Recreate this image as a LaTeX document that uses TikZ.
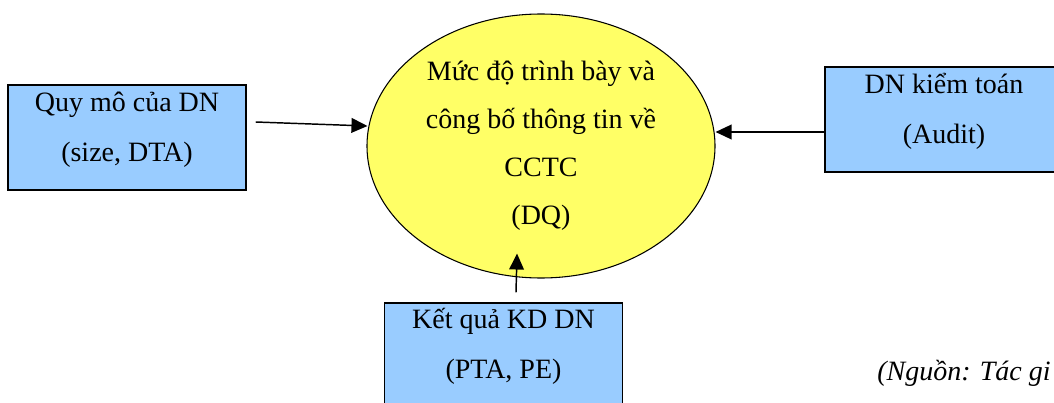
\documentclass[tikz,border=0pt]{standalone}
\usepackage{fontspec}
\setmainfont{Liberation Serif}
\usetikzlibrary{shapes.geometric,arrows.meta}

\tikzset{
  factor/.style={draw=black, line width=1.1pt, fill=factorblue,
    minimum width=178.5pt, minimum height=78.75pt, inner sep=0pt},
  factortxt/.style={align=center, inner sep=0pt,
    font=\fontsize{21}{37.5}\selectfont},
  arr/.style={line width=1.1pt, -{Triangle[length=12pt,width=11pt]}}
}
\definecolor{factorblue}{RGB}{153,204,255}
\definecolor{dqyellow}{RGB}{255,255,102}

\begin{document}
\begin{tikzpicture}[x=0.75pt,y=-0.75pt]
\clip (0,0) rectangle (1054,403);
% central ellipse
\node[ellipse, draw=black, line width=0.8pt, fill=dqyellow,
  minimum width=261pt, minimum height=198pt, inner sep=0pt,
  align=center, font=\fontsize{21}{36}\selectfont] (dq) at (541,146)
  {Mức độ trình bày và\\công bố thông tin về\\CCTC\\(DQ)};
% the three factors
\node[factor] (size) at (127,137.5) {};
\node[factortxt] (sizetxt) at ([shift={(0,-8)}]size.center) {Quy mô của DN\\(size, DTA)};
\node[factor] (audit) at (944,119.5) {};
\node[factortxt] (audittxt) at ([shift={(0,-8)}]audit.center) {DN kiểm toán\\(Audit)};
\node[factor] (perf) at (503.5,355.5) {};
\node[factortxt] (perftxt) at ([shift={(0,-9)}]perf.center) {Kết quả KD DN\\(PTA, PE)};
% arrows into the ellipse
\draw[arr] ([shift={(9,-15.5)}]size.east) -- ([shift={(1,-20)}]dq.west);
\draw[arr] ([shift={(0,12.5)}]audit.west) -- ([shift={(0,-14)}]dq.east);
\draw[arr] ([shift={(12.5,-10)}]perf.north) -- ([shift={(-24,-25)}]dq.south);
% source note (cut at the page edge)
\node[anchor=base west, inner sep=0pt, font=\fontsize{21}{24}\selectfont\itshape]
  (src) at (877,380) {(Nguồn: Tác gi};
\end{tikzpicture}
\end{document}
